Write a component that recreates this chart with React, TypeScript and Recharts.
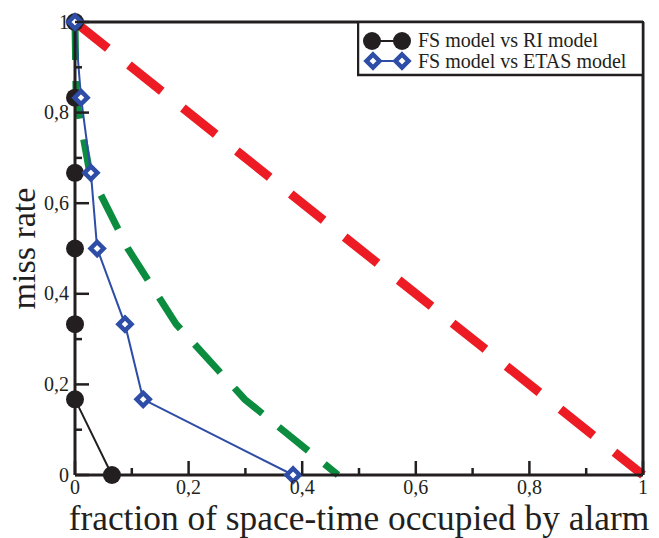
import React from 'react';
import { LineChart, Line, XAxis, YAxis, Legend } from 'recharts';

// ---- data ----
const riX = [0, 0, 0, 0, 0, 0, 0.065];
const riY = [1, 0.833, 0.667, 0.5, 0.333, 0.167, 0];
const etasX = [0, 0.0106, 0.028, 0.039, 0.088, 0.12, 0.384];
const etasY = [1, 0.833, 0.667, 0.5, 0.333, 0.167, 0];
const greenX = [0, 0.002, 0.026, 0.093, 0.178, 0.299, 0.463];
const greenY = [1, 0.833, 0.667, 0.5, 0.333, 0.167, 0];
const redX = [0, 1];
const redY = [1, 0];
const seriesNames = ['FS model vs RI model', 'FS model vs ETAS model'];
const axisTicks = [0, 0.1, 0.2, 0.3, 0.4, 0.5, 0.6, 0.7, 0.8, 0.9, 1];
const tickLabels = ['0', '', '0,2', '', '0,4', '', '0,6', '', '0,8', '', '1'];
const xTitle = 'fraction of space-time occupied by alarm';
const yTitle = 'miss rate';

const zip = (xs: number[], ys: number[]) => xs.map((x, i) => ({ x, y: ys[i] }));
const riData = zip(riX, riY);
const etasData = zip(etasX, etasY);
const greenData = zip(greenX, greenY);
const redData = zip(redX, redY);

// ---- style ----
const FRAME = '#231f20';
const RED = '#ed1c24';
const GREEN = '#0b8c3f';
const BLUE = '#2e4da7';
const FONT = '"Liberation Serif", "DejaVu Serif", serif';
const MAJOR = 14;
const MINOR = 7;

const tickIndex = (v: number) => axisTicks.findIndex((t) => Math.abs(t - v) < 1e-9);
const isMajor = (v: number) => tickIndex(v) % 2 === 0;

const BottomTick = (props: any) => {
  const { x, y, payload } = props;
  const v = payload.value;
  const major = isMajor(v);
  return (
    <g>
      <line x1={x} x2={x} y1={y} y2={y - (major ? MAJOR : MINOR)} stroke={FRAME} strokeWidth={2.5} />
      {major && (
        <text x={x} y={y + 19} textAnchor="middle" fontFamily={FONT} fontSize={20} fill={FRAME}>
          {tickLabels[tickIndex(v)]}
        </text>
      )}
    </g>
  );
};

const TopTick = (props: any) => {
  const { x, y, payload } = props;
  const major = isMajor(payload.value);
  return <line x1={x} x2={x} y1={y} y2={y + (major ? MAJOR : MINOR)} stroke={FRAME} strokeWidth={2.5} />;
};

const LeftTick = (props: any) => {
  const { x, y, payload } = props;
  const v = payload.value;
  const major = isMajor(v);
  return (
    <g>
      <line x1={x} x2={x + (major ? MAJOR : MINOR)} y1={y} y2={y} stroke={FRAME} strokeWidth={2.5} />
      {major && (
        <text x={x - 6} y={y} dy="0.33em" textAnchor="end" fontFamily={FONT} fontSize={20} fill={FRAME}>
          {tickLabels[tickIndex(v)]}
        </text>
      )}
    </g>
  );
};

const RightTick = (props: any) => {
  const { x, y, payload } = props;
  const major = isMajor(payload.value);
  return <line x1={x} x2={x - (major ? MAJOR : MINOR)} y1={y} y2={y} stroke={FRAME} strokeWidth={2.5} />;
};

const XTitle = (props: any) => {
  const vb = props.viewBox || { x: 75, y: 475, width: 568, height: 63 };
  return (
    <text x={vb.x + vb.width / 2} y={vb.y + 55.2} textAnchor="middle" fontFamily={FONT} fontSize={35.4} fill={FRAME}>
      {xTitle}
    </text>
  );
};

const YTitle = (props: any) => {
  const vb = props.viewBox || { x: 0, y: 22, width: 75, height: 453 };
  const cx = 35;
  const cy = vb.y + vb.height / 2;
  return (
    <text x={cx} y={cy} transform={`rotate(-90, ${cx}, ${cy})`} textAnchor="middle" fontFamily={FONT} fontSize={34} fill={FRAME}>
      {yTitle}
    </text>
  );
};

const diamondPath = (cx: number, cy: number, h: number) =>
  `M${cx},${cy - h}L${cx + h},${cy}L${cx},${cy + h}L${cx - h},${cy}Z`;

const CircleDot = (p: any) => <circle key={`c${p.index}`} cx={p.cx} cy={p.cy} r={9} fill={FRAME} />;
const DiamondDot = (p: any) => (
  <path key={`d${p.index}`} d={diamondPath(p.cx, p.cy, 6.5)} fill="#fff" stroke={BLUE} strokeWidth={4.5} />
);

const LegendBox = () => (
  <svg width={287} height={56} style={{ display: 'block' }}>
    <rect x={1} y={1} width={285} height={53} fill="#fff" stroke={FRAME} strokeWidth={2.5} />
    <line x1={15} x2={45} y1={20} y2={20} stroke={FRAME} strokeWidth={2} />
    <circle cx={15} cy={20} r={9} fill={FRAME} />
    <circle cx={45} cy={20} r={9} fill={FRAME} />
    <text x={61} y={26} fontFamily={FONT} fontSize={20} fill={FRAME}>{seriesNames[0]}</text>
    <line x1={16} x2={45} y1={40} y2={40} stroke={BLUE} strokeWidth={2} />
    <path d={diamondPath(16, 40, 6.5)} fill="#fff" stroke={BLUE} strokeWidth={4.5} />
    <path d={diamondPath(45, 40, 6.5)} fill="#fff" stroke={BLUE} strokeWidth={4.5} />
    <text x={61} y={47} fontFamily={FONT} fontSize={20} fill={FRAME}>{seriesNames[1]}</text>
  </svg>
);

export default function App() {
  return (
    <div style={{ position: 'absolute', left: 0, top: 0, width: 659, height: 538, background: '#fff' }}>
      <LineChart width={659} height={538} margin={{ top: 0, right: 0, bottom: 0, left: 0 }}>
        <XAxis
          dataKey="x"
          type="number"
          domain={[0, 1]}
          ticks={axisTicks}
          interval={0}
          height={63}
          tickSize={0}
          tickMargin={0}
          tickLine={false}
          axisLine={{ stroke: FRAME, strokeWidth: 3 }}
          tick={<BottomTick />}
          label={<XTitle />}
        />
        <XAxis
          xAxisId="top"
          orientation="top"
          dataKey="x"
          type="number"
          domain={[0, 1]}
          ticks={axisTicks}
          interval={0}
          height={22}
          tickSize={0}
          tickMargin={0}
          tickLine={false}
          axisLine={{ stroke: FRAME, strokeWidth: 3 }}
          tick={<TopTick />}
        />
        <YAxis
          type="number"
          domain={[0, 1]}
          ticks={axisTicks}
          interval={0}
          width={75}
          tickSize={0}
          tickMargin={0}
          tickLine={false}
          axisLine={{ stroke: FRAME, strokeWidth: 3 }}
          tick={<LeftTick />}
          label={<YTitle />}
        />
        <YAxis
          yAxisId="right"
          orientation="right"
          type="number"
          domain={[0, 1]}
          ticks={axisTicks}
          interval={0}
          width={16}
          tickSize={0}
          tickMargin={0}
          tickLine={false}
          axisLine={{ stroke: FRAME, strokeWidth: 3 }}
          tick={<RightTick />}
        />
        <Line data={redData} dataKey="y" type="linear" stroke={RED} strokeWidth={9} strokeDasharray="42 27" dot={false} activeDot={false} isAnimationActive={false} legendType="none" />
        <Line data={greenData} dataKey="y" type="linear" stroke={GREEN} strokeWidth={7} strokeDasharray="38 21" dot={false} activeDot={false} isAnimationActive={false} legendType="none" />
        <Line data={riData} dataKey="y" name={seriesNames[0]} type="linear" stroke={FRAME} strokeWidth={2} dot={CircleDot} activeDot={false} isAnimationActive={false} />
        <Line data={etasData} dataKey="y" name={seriesNames[1]} type="linear" stroke={BLUE} strokeWidth={2} dot={DiamondDot} activeDot={false} isAnimationActive={false} />
        <Legend
          layout="vertical"
          align="center"
          verticalAlign="middle"
          content={<LegendBox />}
          wrapperStyle={{ position: 'absolute', left: 357, top: 21, width: 287, height: 56, margin: 0, padding: 0 }}
        />
      </LineChart>
    </div>
  );
}
